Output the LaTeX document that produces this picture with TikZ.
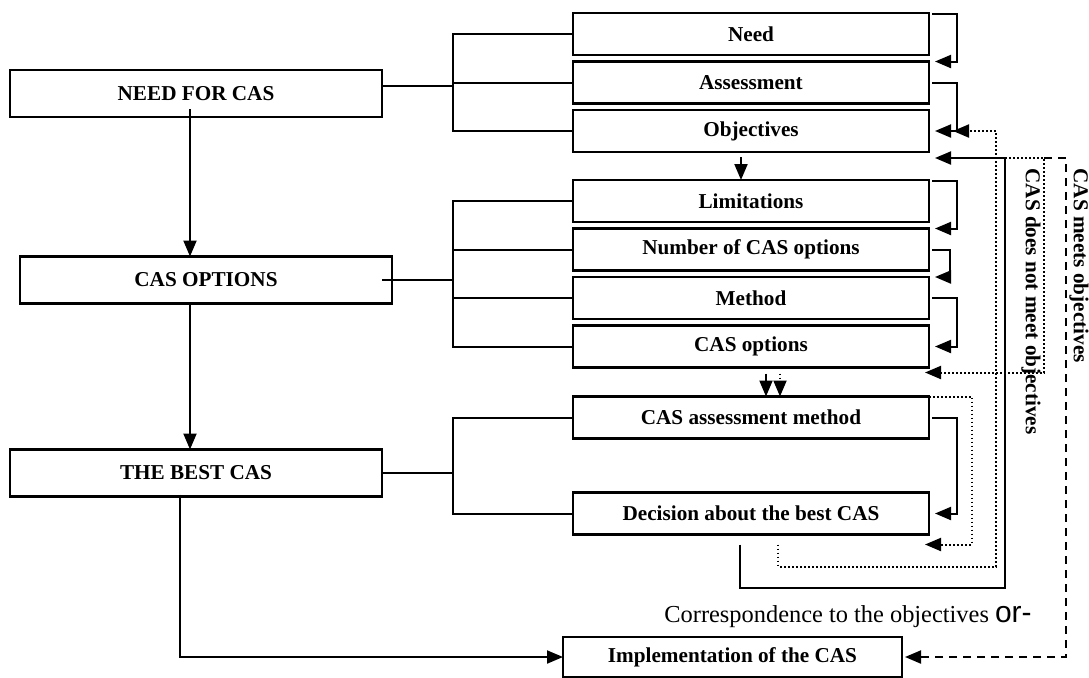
\documentclass[tikz,border=0pt]{standalone}
\usepackage{fontspec}
\setmainfont{Liberation Serif}
\setsansfont{Liberation Sans}
\usepackage{tikz}
\usetikzlibrary{arrows.meta, positioning}

\begin{document}
\begin{tikzpicture}[
  x=0.5pt, y=-0.5pt,
  node distance=3.25pt,
  box/.style={
    draw,
    line width=1.2pt,
    minimum width=178pt,
    minimum height=21pt,
    inner sep=0pt,
    outer sep=0pt,
    font=\bfseries\fontsize{10.6}{12}\selectfont,
    text centered
  },
  bigbox/.style={
    box,
    minimum width=186pt,
    minimum height=23.5pt
  },
  line/.style={
    line width=1pt
  },
  arr/.style={
    -{Triangle[length=8pt,width=6.5pt]},
    line width=1pt
  },
  dotline/.style={
    line width=0.9pt,
    dash pattern=on 0.8pt off 1.2pt
  },
  dashline/.style={
    line width=0.9pt,
    dash pattern=on 4pt off 3pt
  },
  side/.style={
    rotate=-90,
    anchor=west,
    inner sep=0pt,
    font=\bfseries\fontsize{10.6}{12}\selectfont
  }
]
\useasboundingbox (0,0) rectangle (1089,677);

\node [box] (need) at (751,34) {Need};
\node [box, below=of need] (assess) {Assessment};
\node [box, below=of assess] (obj) {Objectives};
\node [box, below=14pt of obj] (lim) {Limitations};
\node [box, below=of lim] (numopt) {Number of CAS options};
\node [box, below=of numopt] (method) {Method};
\node [box, below=of method] (casopt) {CAS options};
\node [box, below=14.5pt of casopt] (casassess) {CAS assessment method};
\node [box, below=27pt of casassess] (decision) {Decision about the best CAS};
\node [box, minimum width=169.5pt, minimum height=20pt] (impl) at (732.5,657) {Implementation of the CAS};

\node [bigbox] (needcas) at (196,93.5) {NEED FOR CAS};
\node [bigbox] (casoptions) at (206,280) {CAS OPTIONS};
\node [bigbox] (bestcas) at (196,473) {THE BEST CAS};

\draw [line] ([yshift=3.75pt]needcas.east) -- ++(71,0);
\draw [line] (need.west) -- ++(-120,0) |- (obj.west);
\draw [line] (assess.west) -- ++(-120,0);

\draw [line] ([xshift=-5pt]casoptions.east) -- ++(71,0);
\draw [line] (lim.west) -- ++(-120,0) |- (casopt.west);
\draw [line] (numopt.west) -- ++(-120,0);
\draw [line] (method.west) -- ++(-120,0);

\draw [line] (bestcas.east) -- ++(71,0);
\draw [line] (casassess.west) -- ++(-120,0) |- (decision.west);

\coordinate (a1) at ([xshift=-3pt,yshift=4pt]needcas.south);
\coordinate (a2) at ([xshift=-8pt]casoptions.south);
\draw [arr] (a1) -- (a1 |- casoptions.north);
\draw [arr] (a2) -- (a2 |- bestcas.north);
\draw [arr] ([xshift=-8pt,yshift=1pt]bestcas.south) |- (impl.west);

\draw [arr] ([xshift=-5pt,yshift=-2.5pt]obj.south) -- ([xshift=-5pt]lim.north);
\draw [arr] ([xshift=7.5pt,yshift=-3pt]casopt.south) -- ([xshift=7.5pt]casassess.north);
\draw [dotline, arr] ([xshift=14.5pt,yshift=-3pt]casopt.south) -- ([xshift=14.5pt]casassess.north);

\draw [arr] ([xshift=1.5pt,yshift=-0.5pt]need.north east) -- ++(25,0) |- ([xshift=3pt]assess.north east);
\draw [arr] ([xshift=1.5pt]assess.east) -- ++(25,0) |- ([xshift=3pt]obj.east);
\draw [arr] ([xshift=1.5pt,yshift=-0.5pt]lim.north east) -- ++(25,0) |- ([xshift=3pt]numopt.north east);
\draw [arr] ([xshift=1.5pt]numopt.east) -- ++(18,0) |- ([xshift=3pt]method.north east);
\draw [arr] ([xshift=1.5pt]method.east) -- ++(25,0) |- ([xshift=3pt]casopt.east);
\draw [arr] ([xshift=1.5pt]casassess.east) -- ++(25,0) |- ([xshift=3pt]decision.east);

\coordinate (back) at (1005,158);
\draw [arr] ([xshift=-5.5pt,yshift=-5pt]decision.south) -- ++(0,43) -| (back) -- ([xshift=3pt,yshift=-3pt]obj.south east);
\draw [dotline, arr] ([xshift=13.5pt,yshift=-5pt]decision.south) -- ++(0,22) -| ([xshift=33.5pt]obj.east) -- ([xshift=12pt]obj.east);
\draw [dotline, arr] (casassess.north east) -- ++(43,0) |- ([xshift=-2pt,yshift=-5pt]decision.south east);
\draw [dotline, arr] (back) -- ++(39,0) |- ([xshift=-2pt,yshift=-2.5pt]casopt.south east);
\draw [dashline, arr] ([xshift=19.5pt]back) -- ++(22,0) |- ([xshift=1.5pt]impl.east);

\node [side] (nomeet) at (1031,168) {CAS does not meet objectives};
\node [side] (meet) at (1079,168) {CAS meets objectives};

\node [anchor=west, inner sep=0pt, font=\fontsize{12.2}{14}\selectfont] (corr) at (664,617)
  {Correspondence to the objectives {\sffamily\fontsize{15}{16}\selectfont or-}};

\end{tikzpicture}
\end{document}
